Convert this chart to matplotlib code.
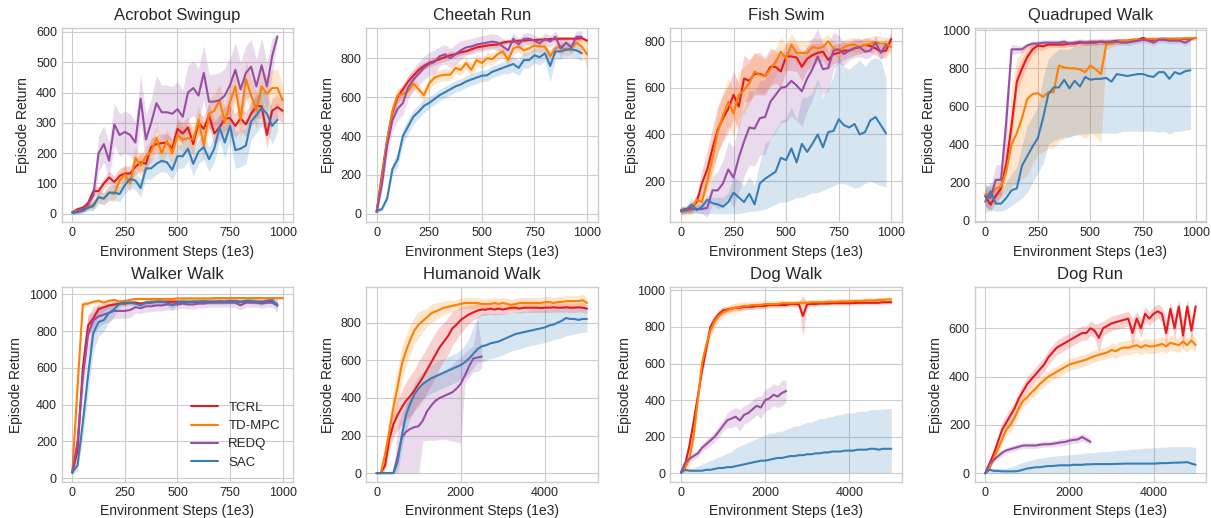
import numpy as np
import matplotlib.pyplot as plt

plt.style.use('seaborn-v0_8-whitegrid')
plt.rcParams['font.family'] = ['Liberation Sans', 'DejaVu Sans']

methods = ['TCRL', 'TD-MPC', 'REDQ', 'SAC']
colors = ['#e41a1c', '#ff7f00', '#984ea3', '#377eb8']
titles = ['Acrobot Swingup', 'Cheetah Run', 'Fish Swim', 'Quadruped Walk',
          'Walker Walk', 'Humanoid Walk', 'Dog Walk', 'Dog Run']

steps_1m = np.arange(0, 1001, 25)
steps_5m = np.arange(0, 5001, 100)

# ---------------- Acrobot Swingup ----------------
acro_tcrl = [5, 15, 20, 35, 75, 75, 100, 120, 105, 125,
             133, 133, 155, 170, 165, 220, 230, 233, 235, 215,
             280, 265, 285, 230, 300, 280, 325, 265, 285, 315,
             315, 290, 315, 295, 330, 355, 355, 260, 340, 352,
             340]
acro_tcrl_err = [5, 8, 10, 12, 15, 15, 20, 20, 20, 25,
                 25, 25, 25, 30, 30, 30, 30, 30, 30, 30,
                 35, 35, 35, 35, 35, 40, 40, 40, 40, 40,
                 40, 40, 40, 40, 40, 40, 40, 45, 40, 40,
                 40]
acro_tdmpc = [5, 10, 15, 25, 30, 55, 50, 70, 65, 110,
              130, 100, 185, 160, 190, 205, 250, 200, 240, 200,
              260, 245, 250, 245, 310, 225, 330, 340, 375, 300,
              370, 420, 310, 445, 390, 340, 420, 395, 415, 415,
              375]
acro_tdmpc_err = [5, 8, 10, 12, 15, 20, 20, 25, 25, 30,
                  30, 30, 35, 35, 35, 35, 40, 40, 40, 40,
                  40, 45, 45, 45, 50, 50, 50, 55, 55, 55,
                  60, 60, 60, 60, 60, 60, 60, 60, 60, 60,
                  50]
acro_redq = [5, 8, 15, 30, 60, 200, 230, 175, 295, 260,
             270, 260, 235, 380, 245, 300, 365, 335, 335, 330,
             345, 320, 400, 415, 390, 465, 370, 370, 375, 390,
             425, 475, 410, 465, 485, 420, 490, 420, 520, 585]
acro_redq_err = [5, 8, 10, 15, 30, 60, 60, 60, 70, 70,
                 70, 70, 70, 80, 80, 80, 90, 90, 90, 90,
                 90, 90, 90, 90, 90, 90, 90, 90, 90, 90,
                 90, 90, 90, 90, 90, 90, 90, 80, 60, 10]
acro_sac = [3, 5, 10, 20, 25, 55, 50, 70, 70, 65,
            95, 115, 110, 85, 150, 150, 165, 175, 170, 145,
            190, 190, 215, 165, 205, 220, 180, 215, 285, 235,
            290, 210, 215, 225, 305, 325, 350, 330, 290, 310]
acro_sac_err = [5, 5, 8, 10, 15, 20, 20, 25, 25, 25,
                30, 30, 30, 30, 35, 35, 35, 35, 35, 35,
                40, 40, 40, 40, 40, 40, 40, 45, 45, 50,
                50, 60, 60, 60, 60, 60, 60, 60, 60, 40]

# ---------------- Cheetah Run ----------------
chee_tcrl = [10, 200, 380, 520, 600, 640, 680, 710, 740, 760,
             775, 785, 795, 805, 815, 820, 830, 835, 845, 855,
             860, 865, 868, 870, 880, 885, 885, 890, 890, 893,
             893, 895, 895, 898, 898, 900, 900, 900, 900, 903,
             890]
chee_tcrl_err = [10, 40, 40, 40, 30, 30, 30, 25, 25, 20,
                 20, 20, 20, 20, 20, 15, 15, 15, 15, 15,
                 15, 15, 15, 15, 15, 10, 10, 10, 10, 10,
                 10, 10, 10, 10, 10, 10, 10, 10, 10, 10,
                 10]
chee_tdmpc = [10, 180, 380, 530, 610, 615, 630, 670, 640, 610,
              670, 700, 710, 715, 715, 750, 740, 775, 740, 790,
              775, 800, 795, 820, 835, 790, 850, 860, 840, 850,
              865, 860, 860, 810, 850, 860, 840, 850, 880, 860,
              820]
chee_tdmpc_err = [10, 40, 40, 40, 35, 30, 30, 30, 30, 30,
                  30, 30, 30, 30, 30, 30, 30, 30, 30, 30,
                  30, 30, 30, 30, 30, 30, 30, 30, 30, 30,
                  30, 30, 30, 30, 30, 30, 30, 30, 30, 40,
                  70]
chee_redq = [10, 150, 350, 480, 540, 570, 650, 690, 720, 750,
             770, 780, 810, 820, 800, 820, 840, 855, 860, 870,
             875, 880, 885, 880, 860, 840, 900, 870, 900, 900,
             890, 875, 900, 885, 910, 850, 880, 855, 910, 910]
chee_redq_err = [10, 40, 50, 60, 60, 60, 60, 60, 60, 60,
                 60, 60, 50, 50, 50, 50, 50, 40, 40, 40,
                 40, 40, 40, 40, 40, 40, 30, 30, 30, 30,
                 30, 30, 30, 30, 30, 50, 30, 30, 30, 30]
chee_sac = [15, 25, 80, 230, 280, 400, 450, 500, 525, 555,
            570, 590, 610, 625, 640, 655, 665, 680, 690, 700,
            710, 712, 730, 740, 750, 760, 770, 750, 790, 790,
            815, 805, 825, 760, 835, 835, 845, 845, 840, 825]
chee_sac_err = [10, 10, 20, 30, 40, 40, 40, 35, 35, 35,
                30, 30, 30, 30, 30, 30, 30, 30, 30, 30,
                30, 30, 30, 30, 30, 40, 40, 40, 40, 40,
                40, 40, 40, 80, 40, 40, 40, 40, 40, 40]

# ---------------- Fish Swim ----------------
fish_tcrl = [75, 80, 85, 110, 190, 250, 340, 420, 470, 510,
             570, 520, 640, 630, 660, 660, 650, 690, 690, 670,
             735, 735, 730, 690, 725, 740, 750, 755, 720, 745,
             750, 760, 760, 770, 775, 785, 780, 770, 755, 760,
             810]
fish_tcrl_err = [15, 15, 20, 30, 60, 80, 90, 100, 100, 100,
                 100, 100, 100, 90, 90, 90, 80, 80, 70, 70,
                 60, 60, 60, 60, 50, 50, 40, 40, 40, 40,
                 40, 40, 30, 30, 30, 30, 30, 30, 30, 30,
                 30]
fish_tdmpc = [70, 70, 75, 120, 110, 200, 300, 410, 480, 540,
              490, 570, 590, 620, 670, 655, 650, 680, 710, 755,
              725, 785, 750, 750, 750, 775, 770, 775, 800, 770,
              760, 775, 785, 785, 775, 785, 790, 795, 790, 790,
              775]
fish_tdmpc_err = [15, 15, 20, 20, 40, 60, 80, 90, 100, 100,
                  100, 100, 100, 90, 80, 80, 70, 70, 60, 60,
                  60, 50, 50, 50, 50, 40, 40, 40, 30, 30,
                  30, 30, 30, 30, 30, 30, 30, 30, 30, 30,
                  30]
fish_redq = [70, 75, 80, 80, 80, 85, 160, 160, 190, 250,
             215, 300, 370, 430, 425, 470, 475, 540, 570, 600,
             605, 630, 610, 585, 640, 680, 735, 680, 685, 760,
             765, 745, 760, 770, 775, 755, 760, 795, 750, 785]
fish_redq_err = [15, 15, 15, 15, 20, 40, 60, 80, 100, 120,
                 130, 150, 150, 160, 160, 160, 160, 160, 160, 150,
                 150, 150, 150, 150, 140, 130, 120, 110, 100, 80,
                 60, 50, 40, 40, 40, 30, 30, 30, 30, 30]
fish_sac = [75, 75, 100, 75, 90, 120, 105, 100, 90, 110,
            150, 130, 110, 145, 100, 190, 210, 225, 240, 300,
            290, 340, 280, 360, 325, 360, 400, 345, 410, 415,
            465, 440, 430, 445, 400, 410, 460, 475, 440, 405]
fish_sac_lo = [60, 60, 60, 60, 60, 60, 60, 60, 60, 60,
               60, 60, 65, 70, 70, 75, 80, 90, 100, 110,
               110, 120, 130, 130, 140, 150, 150, 160, 170, 180,
               190, 190, 180, 170, 175, 190, 200, 190, 180, 175]
fish_sac_hi = [90, 90, 130, 95, 110, 140, 130, 130, 130, 150,
               220, 200, 180, 220, 180, 280, 360, 380, 420, 460,
               470, 520, 460, 560, 560, 580, 640, 560, 600, 650,
               740, 690, 680, 700, 720, 690, 720, 730, 720, 640]

# ---------------- Quadruped Walk ----------------
quad_tcrl = [130, 85, 130, 170, 300, 500, 730, 800, 860, 900,
             920, 915, 925, 925, 925, 925, 930, 930, 935, 935,
             935, 935, 940, 935, 940, 945, 945, 945, 950, 950,
             960, 950, 950, 955, 955, 955, 955, 955, 955, 955,
             960]
quad_tcrl_err = [50, 40, 40, 40, 60, 80, 60, 50, 40, 30,
                 20, 20, 15, 15, 15, 15, 15, 15, 15, 15,
                 15, 15, 15, 15, 15, 10, 10, 10, 10, 10,
                 10, 10, 10, 10, 10, 10, 10, 10, 10, 10,
                 10]
quad_tdmpc = [140, 130, 170, 180, 260, 400, 460, 540, 640, 665,
              670, 650, 675, 675, 815, 805, 800, 800, 795, 780,
              815, 795, 770, 925, 930, 940, 945, 945, 950, 950,
              950, 955, 955, 955, 955, 955, 955, 955, 958, 958,
              960]
quad_tdmpc_lo = [90, 80, 100, 120, 150, 180, 200, 220, 240, 300,
                 350, 360, 380, 380, 420, 430, 440, 450, 450, 430,
                 460, 440, 410, 900, 910, 920, 930, 935, 940, 940,
                 940, 945, 945, 945, 945, 945, 945, 945, 948, 948,
                 950]
quad_tdmpc_hi = [190, 180, 220, 240, 400, 700, 850, 900, 920, 930,
                 940, 940, 940, 940, 945, 945, 945, 945, 945, 945,
                 945, 945, 945, 950, 950, 955, 955, 955, 958, 958,
                 958, 960, 960, 960, 960, 960, 960, 960, 962, 962,
                 965]
quad_redq = [130, 120, 215, 215, 520, 900, 900, 900, 920, 930,
             930, 935, 935, 935, 935, 940, 930, 935, 940, 935,
             940, 940, 940, 940, 940, 940, 935, 935, 940, 945,
             950, 945, 935, 950, 950, 945, 945, 945, 935, 950]
quad_redq_err = [60, 60, 80, 80, 150, 30, 20, 20, 15, 15,
                 15, 15, 15, 15, 15, 15, 15, 15, 15, 15,
                 15, 15, 15, 15, 15, 15, 15, 15, 15, 15,
                 15, 15, 15, 15, 15, 15, 15, 15, 15, 15]
quad_sac = [100, 155, 90, 90, 120, 160, 170, 290, 340, 390,
            435, 540, 665, 700, 700, 740, 695, 735, 705, 755,
            740, 745, 745, 750, 730, 770, 765, 760, 765, 770,
            770, 760, 755, 780, 780, 745, 780, 770, 785, 790]
quad_sac_lo = [40, 60, 50, 50, 60, 80, 100, 120, 150, 200,
               250, 300, 400, 420, 430, 440, 440, 450, 455, 455,
               460, 460, 460, 460, 460, 460, 470, 470, 470, 470,
               470, 470, 470, 465, 470, 455, 470, 470, 475, 480]
quad_sac_hi = [170, 200, 150, 160, 200, 250, 280, 400, 500, 550,
               600, 750, 850, 880, 900, 900, 900, 920, 920, 930,
               930, 930, 930, 940, 940, 940, 940, 940, 940, 940,
               940, 940, 940, 945, 945, 945, 945, 945, 945, 945]

# ---------------- Walker Walk ----------------
walk_tcrl = [30, 150, 600, 830, 870, 920, 930, 940, 945, 950,
             950, 955, 955, 950, 955, 955, 960, 960, 960, 960,
             960, 960, 958, 960, 960, 962, 960, 960, 962, 960,
             960, 962, 960, 960, 962, 960, 960, 962, 958, 945]
walk_tcrl_err = [10, 50, 80, 60, 40, 30, 20, 15, 15, 10,
                 10, 10, 10, 10, 10, 10, 10, 10, 10, 10,
                 10, 10, 10, 10, 10, 10, 10, 10, 10, 10,
                 10, 10, 10, 10, 10, 10, 10, 10, 10, 15]
walk_tdmpc = [30, 500, 945, 950, 960, 965, 955, 965, 970, 960,
              965, 970, 975, 975, 975, 975, 975, 975, 975, 975,
              978, 978, 978, 978, 978, 978, 978, 980, 980, 980,
              980, 980, 980, 980, 980, 980, 980, 980, 980, 980,
              980]
walk_tdmpc_err = [10, 60, 20, 10, 10, 10, 10, 10, 10, 10,
                  8, 8, 8, 8, 8, 8, 8, 8, 8, 8,
                  8, 8, 8, 8, 8, 8, 8, 8, 8, 8,
                  8, 8, 8, 8, 8, 8, 8, 8, 8, 8,
                  8]
walk_redq = [30, 200, 550, 780, 860, 880, 890, 900, 910, 910,
             910, 915, 930, 925, 935, 935, 940, 940, 945, 945,
             945, 950, 945, 945, 950, 950, 955, 955, 955, 955,
             955, 955, 940, 955, 955, 955, 950, 955, 955, 940]
walk_redq_err = [10, 60, 100, 100, 80, 60, 50, 50, 40, 40,
                 40, 40, 30, 30, 30, 30, 30, 30, 30, 30,
                 25, 25, 25, 25, 25, 25, 25, 25, 25, 25,
                 25, 25, 25, 25, 25, 25, 25, 25, 25, 40]
walk_sac = [30, 70, 300, 560, 790, 850, 860, 900, 920, 950,
            955, 955, 950, 940, 955, 960, 960, 960, 955, 940,
            955, 960, 960, 960, 960, 960, 960, 960, 960, 960,
            965, 960, 960, 965, 965, 960, 955, 965, 970, 940]
walk_sac_err = [10, 30, 80, 100, 100, 80, 60, 50, 40, 20,
                15, 15, 15, 20, 15, 15, 15, 15, 15, 25,
                15, 15, 15, 15, 15, 15, 15, 15, 15, 15,
                15, 15, 15, 15, 15, 15, 15, 15, 15, 20]

# ---------------- Humanoid Walk ----------------
hum_tcrl = [0, 0, 40, 180, 260, 310, 350, 385, 410, 440,
            475, 510, 550, 590, 630, 670, 700, 730, 770, 790,
            815, 830, 845, 855, 865, 870, 870, 875, 870, 875,
            870, 875, 880, 880, 875, 880, 880, 880, 880, 878,
            880, 880, 882, 880, 880, 882, 880, 880, 882, 880,
            875]
hum_tcrl_err = [0, 0, 30, 60, 70, 80, 90, 100, 110, 110,
                120, 120, 120, 120, 120, 110, 100, 100, 90, 80,
                70, 60, 50, 40, 40, 30, 30, 30, 30, 30,
                25, 25, 25, 25, 25, 25, 25, 25, 25, 25,
                25, 25, 25, 25, 25, 25, 25, 25, 25, 25,
                25]
hum_tdmpc = [0, 0, 100, 220, 350, 460, 580, 650, 710, 760,
             790, 810, 830, 850, 860, 870, 880, 885, 890, 895,
             900, 905, 905, 905, 905, 900, 900, 900, 905, 900,
             905, 900, 895, 900, 905, 905, 905, 905, 905, 905,
             910, 910, 905, 910, 910, 915, 915, 915, 915, 920,
             905]
hum_tdmpc_err = [0, 0, 40, 80, 90, 100, 90, 80, 80, 70,
                 70, 60, 50, 50, 45, 40, 35, 35, 30, 30,
                 30, 30, 30, 30, 30, 30, 30, 30, 30, 30,
                 30, 30, 30, 30, 30, 30, 30, 30, 30, 30,
                 30, 30, 30, 30, 30, 30, 30, 30, 30, 30,
                 30]
hum_redq = [0, 0, 0, 0, 0, 90, 190, 220, 235, 245,
            250, 280, 330, 360, 385, 400, 410, 420, 430, 450,
            475, 520, 570, 610, 615, 620]
hum_redq_lo = [0, 0, 0, 0, 0, 0, 0, 0, 0, 0,
               0, 170, 175, 175, 175, 180, 180, 175, 170, 165,
               160, 480, 510, 540, 540, 560]
hum_redq_hi = [0, 0, 0, 0, 0, 250, 320, 370, 400, 420,
               440, 470, 500, 510, 520, 530, 540, 560, 580, 600,
               620, 640, 660, 680, 820, 660]
hum_sac = [0, 0, 0, 0, 0, 60, 200, 310, 370, 420,
           450, 475, 490, 505, 515, 525, 535, 545, 555, 565,
           575, 590, 610, 635, 660, 675, 680, 690, 695, 700,
           710, 720, 730, 740, 745, 750, 755, 760, 765, 770,
           775, 785, 790, 800, 810, 825, 820, 820, 815, 820,
           820]
hum_sac_lo = [0, 0, 0, 0, 0, 0, 130, 230, 290, 340,
              370, 395, 410, 425, 435, 445, 455, 465, 475, 485,
              495, 510, 530, 560, 590, 590, 600, 610, 615, 620,
              630, 640, 650, 655, 660, 670, 675, 680, 685, 690,
              695, 700, 710, 715, 720, 730, 735, 740, 745, 750,
              750]
hum_sac_hi = [0, 0, 0, 0, 0, 120, 260, 370, 430, 480,
              515, 540, 560, 575, 590, 600, 610, 620, 630, 640,
              655, 680, 720, 780, 830, 850, 850, 850, 850, 850,
              850, 852, 855, 858, 860, 862, 865, 868, 870, 870,
              870, 872, 875, 875, 878, 880, 880, 880, 880, 880,
              880]

# ---------------- Dog Walk ----------------
dogw_tcrl = [5, 50, 150, 280, 420, 560, 680, 800, 840, 870,
             890, 895, 900, 905, 905, 910, 910, 910, 915, 915,
             915, 920, 920, 920, 920, 920, 925, 925, 925, 860,
             925, 925, 925, 928, 928, 928, 930, 930, 930, 930,
             930, 930, 932, 932, 932, 932, 932, 932, 935, 935,
             935]
dogw_tcrl_err = [3, 20, 30, 30, 30, 30, 30, 30, 25, 20,
                 20, 15, 15, 15, 15, 15, 15, 15, 15, 15,
                 15, 12, 12, 12, 12, 12, 12, 12, 12, 110,
                 12, 12, 12, 10, 10, 10, 10, 10, 10, 10,
                 10, 10, 10, 10, 10, 10, 10, 10, 10, 10,
                 10]
dogw_tdmpc = [5, 30, 80, 200, 400, 600, 700, 780, 830, 860,
              880, 890, 900, 905, 910, 915, 915, 920, 920, 920,
              925, 925, 925, 925, 930, 930, 930, 930, 932, 932,
              932, 935, 935, 935, 935, 938, 938, 938, 940, 940,
              940, 942, 942, 942, 945, 945, 945, 948, 948, 950,
              950]
dogw_tdmpc_err = [3, 20, 40, 40, 40, 40, 40, 35, 35, 30,
                  30, 25, 25, 25, 25, 25, 20, 20, 20, 20,
                  20, 20, 20, 20, 20, 15, 15, 15, 15, 15,
                  15, 15, 15, 15, 15, 15, 15, 15, 15, 15,
                  15, 15, 15, 15, 15, 15, 15, 15, 15, 15,
                  15]
dogw_redq = [5, 60, 80, 95, 110, 140, 160, 180, 200, 230,
             260, 290, 300, 310, 290, 320, 330, 350, 370, 360,
             400, 410, 430, 420, 440, 450]
dogw_redq_err = [3, 10, 15, 20, 20, 20, 25, 25, 30, 30,
                 30, 40, 50, 50, 60, 50, 50, 50, 50, 60,
                 60, 60, 60, 60, 70, 60]
dogw_sac = [5, 20, 15, 15, 15, 15, 20, 20, 25, 30,
            30, 35, 35, 40, 45, 50, 55, 60, 65, 70,
            70, 75, 80, 85, 85, 90, 95, 95, 100, 100,
            105, 105, 110, 110, 115, 115, 120, 120, 120, 125,
            125, 125, 130, 130, 130, 135, 135, 130, 135, 135,
            135]
dogw_sac_lo = [2, 5, 5, 5, 5, 5, 5, 5, 5, 5,
               5, 5, 5, 5, 5, 5, 5, 5, 5, 5,
               5, 5, 5, 5, 5, 5, 5, 5, 5, 5,
               5, 5, 5, 5, 5, 5, 5, 5, 5, 5,
               5, 5, 5, 5, 5, 5, 5, 5, 5, 5,
               5]
dogw_sac_hi = [8, 30, 30, 30, 40, 50, 60, 70, 80, 90,
               100, 110, 120, 140, 150, 160, 170, 180, 190, 200,
               210, 220, 220, 230, 230, 240, 250, 260, 260, 270,
               280, 280, 290, 300, 300, 310, 310, 320, 320, 330,
               330, 330, 340, 340, 340, 350, 350, 350, 350, 355,
               355]

# ---------------- Dog Run ----------------
dogr_tcrl = [0, 40, 80, 130, 180, 210, 240, 270, 310, 340,
             370, 390, 410, 430, 450, 480, 500, 520, 530, 540,
             550, 560, 570, 580, 580, 600, 590, 560, 600, 610,
             620, 625, 630, 635, 640, 580, 640, 600, 660, 640,
             660, 670, 660, 580, 680, 600, 690, 570, 690, 590,
             690]
dogr_tcrl_err = [0, 15, 20, 25, 30, 30, 30, 30, 30, 30,
                 30, 30, 30, 30, 30, 30, 30, 30, 30, 30,
                 30, 30, 30, 30, 30, 30, 30, 60, 30, 30,
                 30, 30, 30, 30, 30, 60, 30, 40, 30, 30,
                 30, 30, 30, 60, 30, 50, 30, 60, 30, 50,
                 30]
dogr_tdmpc = [0, 20, 60, 100, 140, 180, 200, 230, 270, 300,
              315, 335, 350, 370, 385, 400, 410, 420, 430, 440,
              450, 455, 460, 465, 470, 478, 485, 490, 495, 500,
              510, 505, 515, 520, 520, 525, 530, 520, 530, 525,
              525, 530, 535, 525, 540, 535, 530, 545, 530, 550,
              530]
dogr_tdmpc_err = [0, 10, 15, 20, 20, 25, 25, 25, 25, 25,
                  25, 25, 25, 25, 25, 25, 25, 25, 25, 25,
                  25, 25, 25, 25, 25, 25, 25, 25, 25, 25,
                  30, 30, 30, 30, 30, 30, 30, 30, 30, 30,
                  30, 30, 30, 30, 30, 30, 30, 30, 30, 30,
                  30]
dogr_redq = [0, 40, 55, 70, 85, 95, 100, 105, 110, 115,
             115, 115, 115, 118, 120, 120, 122, 125, 128, 130,
             135, 138, 140, 150, 140, 130]
dogr_redq_err = [0, 8, 10, 12, 12, 12, 12, 12, 12, 12,
                 12, 12, 12, 12, 12, 12, 12, 12, 15, 15,
                 15, 15, 15, 15, 15, 12]
dogr_sac = [0, 15, 10, 10, 8, 8, 8, 8, 10, 15,
            20, 22, 25, 25, 28, 30, 30, 32, 33, 33,
            33, 35, 35, 35, 37, 37, 38, 38, 38, 38,
            38, 39, 39, 40, 40, 40, 40, 40, 40, 40,
            40, 41, 42, 42, 43, 44, 44, 45, 46, 40,
            35]
dogr_sac_lo = [0, 0, 0, 0, 0, 0, 0, 0, 0, 0,
               0, 0, 0, 0, 0, 0, 0, 0, 0, 0,
               0, 0, 0, 0, 0, 0, 0, 0, 0, 0,
               0, 0, 0, 0, 0, 0, 0, 0, 0, 0,
               0, 0, 0, 0, 0, 0, 0, 0, 0, 0,
               0]
dogr_sac_hi = [0, 20, 20, 20, 20, 20, 25, 30, 40, 45,
               50, 55, 60, 62, 65, 68, 70, 72, 74, 75,
               76, 78, 80, 82, 84, 85, 86, 88, 90, 90,
               92, 94, 95, 96, 98, 100, 100, 102, 104, 105,
               105, 106, 108, 108, 110, 110, 110, 110, 110, 110,
               105]

ylims = [(-28, 613), (-43, 955), (23, 857), (-8, 1012),
         (-20, 1038), (-46, 988), (-45, 1016), (-35, 769)]


def curve(ax, x, mean, color, err=None, lo=None, hi=None, label=None):
    m = np.asarray(mean, dtype=float)
    n = len(m)
    if err is not None:
        lo = m - np.asarray(err[:n], dtype=float)
        hi = m + np.asarray(err[:n], dtype=float)
    ax.fill_between(x[:n], np.asarray(lo[:n]), np.asarray(hi[:n]),
                    color=color, alpha=0.2, linewidth=0)
    ax.plot(x[:n], m, color=color, lw=1.5, label=label)


panels = [
    (steps_1m, [dict(mean=acro_tcrl, err=acro_tcrl_err),
                dict(mean=acro_tdmpc, err=acro_tdmpc_err),
                dict(mean=acro_redq, err=acro_redq_err),
                dict(mean=acro_sac, err=acro_sac_err)]),
    (steps_1m, [dict(mean=chee_tcrl, err=chee_tcrl_err),
                dict(mean=chee_tdmpc, err=chee_tdmpc_err),
                dict(mean=chee_redq, err=chee_redq_err),
                dict(mean=chee_sac, err=chee_sac_err)]),
    (steps_1m, [dict(mean=fish_tcrl, err=fish_tcrl_err),
                dict(mean=fish_tdmpc, err=fish_tdmpc_err),
                dict(mean=fish_redq, err=fish_redq_err),
                dict(mean=fish_sac, lo=fish_sac_lo, hi=fish_sac_hi)]),
    (steps_1m, [dict(mean=quad_tcrl, err=quad_tcrl_err),
                dict(mean=quad_tdmpc, lo=quad_tdmpc_lo, hi=quad_tdmpc_hi),
                dict(mean=quad_redq, err=quad_redq_err),
                dict(mean=quad_sac, lo=quad_sac_lo, hi=quad_sac_hi)]),
    (steps_1m, [dict(mean=walk_tcrl, err=walk_tcrl_err),
                dict(mean=walk_tdmpc, err=walk_tdmpc_err),
                dict(mean=walk_redq, err=walk_redq_err),
                dict(mean=walk_sac, err=walk_sac_err)]),
    (steps_5m, [dict(mean=hum_tcrl, err=hum_tcrl_err),
                dict(mean=hum_tdmpc, err=hum_tdmpc_err),
                dict(mean=hum_redq, lo=hum_redq_lo, hi=hum_redq_hi),
                dict(mean=hum_sac, lo=hum_sac_lo, hi=hum_sac_hi)]),
    (steps_5m, [dict(mean=dogw_tcrl, err=dogw_tcrl_err),
                dict(mean=dogw_tdmpc, err=dogw_tdmpc_err),
                dict(mean=dogw_redq, err=dogw_redq_err),
                dict(mean=dogw_sac, lo=dogw_sac_lo, hi=dogw_sac_hi)]),
    (steps_5m, [dict(mean=dogr_tcrl, err=dogr_tcrl_err),
                dict(mean=dogr_tdmpc, err=dogr_tdmpc_err),
                dict(mean=dogr_redq, err=dogr_redq_err),
                dict(mean=dogr_sac, lo=dogr_sac_lo, hi=dogr_sac_hi)]),
]

fig, axes = plt.subplots(2, 4, figsize=(12.11, 5.18), dpi=100)
fig.subplots_adjust(left=0.051, right=0.996, top=0.946, bottom=0.07,
                    wspace=0.315, hspace=0.335)

for i, ax in enumerate(axes.flat):
    x, series = panels[i]
    for s, name, c in zip(series, methods, colors):
        curve(ax, x, s['mean'], c, err=s.get('err'), lo=s.get('lo'),
              hi=s.get('hi'), label=name)
    ax.set_title(titles[i], fontsize=12)
    ax.set_xlabel('Environment Steps (1e3)', fontsize=10)
    ax.set_ylabel('Episode Return', fontsize=10)
    ax.tick_params(labelsize=9)
    if x[-1] > 1000:
        ax.set_xlim(-250, 5250)
        ax.set_xticks([0, 2000, 4000])
    else:
        ax.set_xlim(-50, 1050)
        ax.set_xticks([0, 250, 500, 750, 1000])
    ax.set_ylim(*ylims[i])

axes[1, 0].legend(loc='lower right', frameon=False, fontsize=9.5,
                  labelspacing=0.45, handlelength=2.0, borderaxespad=0.6)

fig.savefig('out.png', dpi=100)
